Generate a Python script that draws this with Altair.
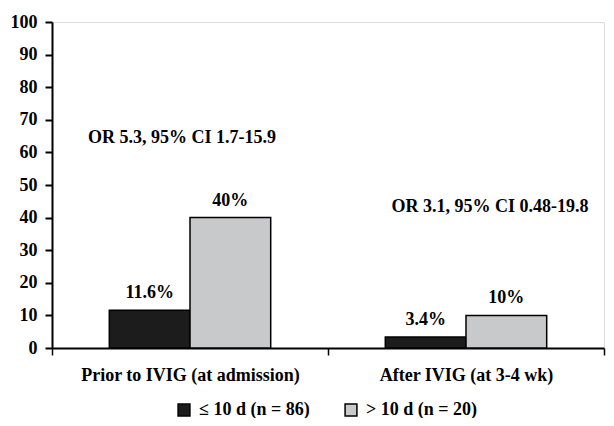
import altair as alt
import pandas as pd

groups = ["Prior to IVIG (at admission)", "After IVIG (at 3-4 wk)"]
series = ["≤ 10 d (n = 86)", "> 10 d (n = 20)"]
values = [[11.6, 40.0], [3.4, 10.0]]
value_labels = [["11.6%", "40%"], ["3.4%", "10%"]]
annotations = ["OR 5.3, 95% CI 1.7-15.9", "OR 3.1, 95% CI 0.48-19.8"]
annotation_y = [64.5, 43.3]
y_ticks = list(range(0, 101, 10))
colors = ["#1c1c1c", "#c8c9cb"]

rows = []
for gi, g in enumerate(groups):
    for si, s in enumerate(series):
        rows.append({"group": g, "series": s, "value": values[gi][si],
                     "label": value_labels[gi][si]})
df = pd.DataFrame(rows)

ann = pd.DataFrame({"group": groups, "text": annotations, "value": annotation_y})

FONT = "Liberation Serif"
FS = 18

x = alt.X("group:N", sort=groups, title=None,
          scale=alt.Scale(paddingInner=0, paddingOuter=0),
          axis=alt.Axis(labelAngle=0, labelFont=FONT, labelFontSize=FS,
                        labelFontWeight="bold", labelColor="black",
                        labelLimit=0, labelOverlap=False,
                        labelPadding=11, tickBand="extent", tickSize=7,
                        tickColor="black", tickWidth=1.5, domainColor="black",
                        domainWidth=2))
xo = alt.XOffset("series:N", sort=series,
                 scale=alt.Scale(paddingOuter=0.71, paddingInner=0))
y = alt.Y("value:Q", title=None,
          scale=alt.Scale(domain=[0, 100], nice=False),
          axis=alt.Axis(values=y_ticks, grid=False, labelFont=FONT,
                        labelFontSize=FS, labelFontWeight="bold",
                        labelColor="black", labelOverlap=False,
                        tickSize=7, tickColor="black",
                        tickWidth=2, domainColor="black", domainWidth=2,
                        labelPadding=8))

bars = alt.Chart(df).mark_bar(stroke="black", strokeWidth=1.5).encode(
    x=x, xOffset=xo, y=y,
    color=alt.Color("series:N", sort=series,
                    scale=alt.Scale(domain=series, range=colors),
                    legend=alt.Legend(title=None, orient="none",
                                      direction="horizontal",
                                      legendX=123, legendY=379,
                                      symbolType="square", symbolSize=140,
                                      symbolStrokeColor="black",
                                      symbolStrokeWidth=1.5,
                                      labelFont=FONT, labelFontSize=FS,
                                      labelFontWeight="bold", labelLimit=0,
                                      labelColor="black", columnPadding=32,
                                      labelOffset=6))
)

texts = alt.Chart(df).mark_text(baseline="bottom", dy=-8, font=FONT,
                                fontSize=FS, fontWeight="bold",
                                color="black").encode(
    x=x, xOffset=xo, y=y, text="label:N")

ann1 = alt.Chart(ann.iloc[[0]]).mark_text(font=FONT, fontSize=FS,
                                          fontWeight="bold", color="black",
                                          dx=-8).encode(
    x=x, y=y, text="text:N")
ann2 = alt.Chart(ann.iloc[[1]]).mark_text(font=FONT, fontSize=FS,
                                          fontWeight="bold", color="black",
                                          dx=24).encode(
    x=x, y=y, text="text:N")

chart = alt.layer(bars, texts, ann1, ann2).properties(
    width=552, height=326,
    autosize=alt.AutoSizeParams(type="none"),
    padding={"left": 44, "top": 14, "right": 2, "bottom": 70},
).configure_view(stroke=None).configure(background="white")

chart.save("out.html", embed_options={"renderer": "svg", "actions": False})
